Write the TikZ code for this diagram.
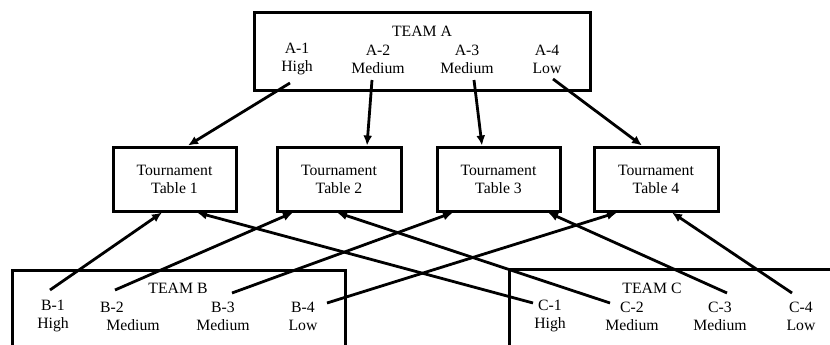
\documentclass[tikz,border=0pt]{standalone}
\usepackage{fontspec}
\setmainfont{Liberation Serif}
\usepackage{tikz}
\usetikzlibrary{arrows.meta}

\begin{document}
\begin{tikzpicture}[x = 1pt, y = -1pt, line width = 3pt, >={Latex[length=10pt, width=9pt]},
  teambox/.style = {draw, minimum height = 100pt},
  tablebox/.style = {draw, minimum width = 123pt, minimum height = 64pt, align = center},
  lbl/.style = {align = center, inner sep = 0pt},
  arr/.style = {->, line width = 2.8pt}]
\useasboundingbox (0,0) rectangle (830,345);
\clip (0,0) rectangle (830,345);
\fontsize{15.75}{18}\selectfont
\node[draw, minimum width = 336pt, minimum height = 77pt] (teamA) at (422,51.5) {};
\node[teambox, minimum width = 333pt] (teamB) at (178.5,320) {};
\node[teambox, minimum width = 400pt] (teamC) at (709,319) {};
\node[lbl] (nameA) at (422,31) {TEAM A};
\node[lbl] (nameB) at (178,288) {TEAM B};
\node[lbl] (nameC) at (652,288) {TEAM C};
\node[lbl] (a1) at (297,59) {A-1\\High};
\node[lbl] (a2) at (378,59) {A-2\\Medium};
\node[lbl] (a3) at (467,59) {A-3\\Medium};
\node[lbl] (a4) at (547,59) {A-4\\Low};
\node[lbl] (b1) at (53,316) {B-1\\High};
\node[lbl] (b2) at (133,316) {B-2\hspace*{2.67em}\\Medium};
\node[lbl] (b3) at (223,316) {B-3\\Medium};
\node[lbl] (b4) at (303,316) {B-4\\Low};
\node[lbl] (c1) at (550,316) {C-1\\High};
\node[lbl] (c2) at (632,316) {C-2\\Medium};
\node[lbl] (c3) at (720,316) {C-3\\Medium};
\node[lbl] (c4) at (801,316) {C-4\\Low};
\node[tablebox] (t1) at (174.5,179) {Tournament\\Table 1};
\node[tablebox, minimum width = 124pt] (t2) at (339,179) {Tournament\\Table 2};
\node[tablebox] (t3) at (498.5,179) {Tournament\\Table 3};
\node[tablebox, minimum width = 124pt] (t4) at (656,179) {Tournament\\Table 4};
\draw[arr] ([shift={(-7,24)}]a1.center) -- ([shift={(13.5,0)}]t1.north);
\draw[arr] ([shift={(-6,21)}]a2.center) -- ([shift={(28,0)}]t2.north);
\draw[arr] ([shift={(7,21)}]a3.center) -- ([shift={(-16.5,0)}]t3.north);
\draw[arr] ([shift={(6,20)}]a4.center) -- ([shift={(-14,0)}]t4.north);
\draw[arr] ([shift={(-3,-26)}]b1.center) -- ([shift={(-12.5,0)}]t1.south);
\draw[arr] ([shift={(-18,-26)}]b2.center) -- ([shift={(-46,0)}]t2.south);
\draw[arr] ([shift={(9,-23)}]b3.center) -- ([shift={(-45.5,0)}]t3.south);
\draw[arr] ([shift={(24,-13)}]b4.center) -- ([shift={(-39,0)}]t4.south);
\draw[arr] ([shift={(-17,-13)}]c1.center) -- ([shift={(22.5,0)}]t1.south);
\draw[arr] ([shift={(-22,-13)}]c2.center) -- ([shift={(-2,0)}]t2.south);
\draw[arr] ([shift={(7,-23)}]c3.center) -- ([shift={(49.5,0)}]t3.south);
\draw[arr] ([shift={(-9,-23)}]c4.center) -- ([shift={(16,0)}]t4.south);
\end{tikzpicture}
\end{document}
